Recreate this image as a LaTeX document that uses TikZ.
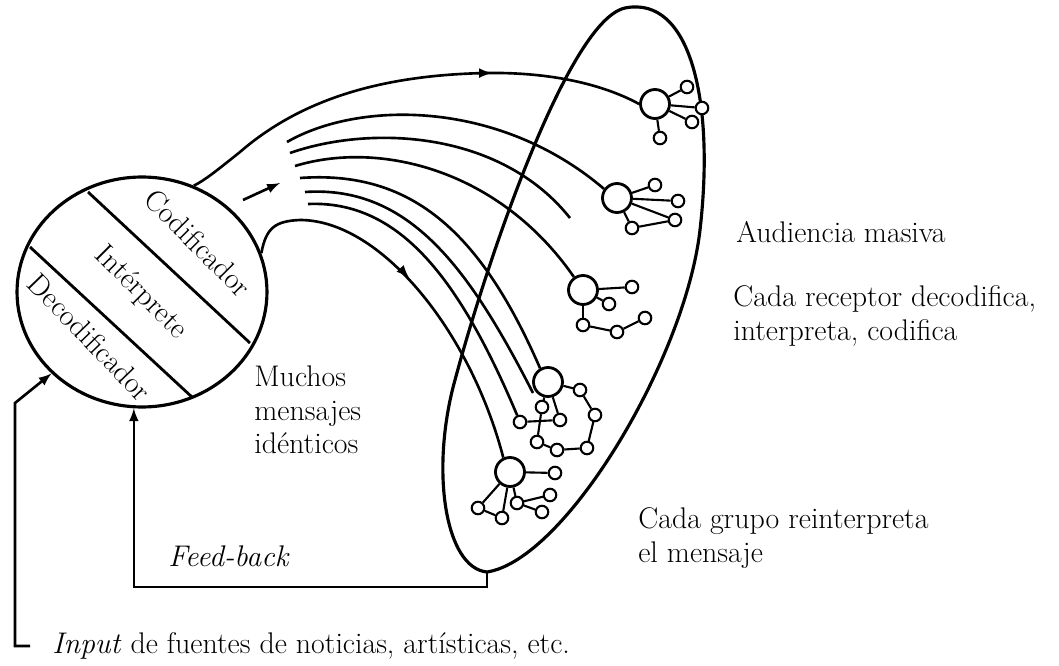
\documentclass[tikz,border=0pt]{standalone}
\usepackage{tikz}
\tikzset{>=latex}
\usetikzlibrary{calc}
\usetikzlibrary{shapes.geometric}
\tikzset{
  lbl/.style={inner sep=0pt, font=\fontsize{17}{19}\selectfont},
  flow/.style={line width=1.5pt},
  rcv/.style={circle, draw, line width=1.6pt, minimum size=0.58cm, inner sep=0pt},
  sat/.style={circle, draw, line width=1.2pt, fill=white, minimum size=0.25cm, inner sep=0pt},
  net/.style={line width=1.2pt}
}

\begin{document}
\begin{tikzpicture}[x=0.02cm, y=-0.02cm]
        \useasboundingbox (0,0) rectangle (1059,666);
        % fuente
        \node[draw, ellipse, line width=1.8pt, minimum width=5cm, minimum height=4.6cm] (src) at (142,292) {};
        \draw[line width=1.6pt] (88,192) -- (250,343);
        \draw[line width=1.6pt] (30,247) -- (193,398);
        \node[lbl, rotate=-45] (codif) at (198,243) {Codificador};
        \node[lbl, rotate=-45] (interp) at (141,293) {Intérprete};
        \node[lbl, rotate=-46] (decodif) at (90,337) {Decodificador};
        % audiencia
        \coordinate (audb) at (487,572);
        \draw[line width=1.8pt] (audb) .. controls (445,568) and (430,470) .. (455,380)
            .. controls (490,250) and (570,20) .. (625,8)
            .. controls (690,-5) and (715,100) .. (700,230)
            .. controls (685,360) and (565,560) .. (audb);
        % receptores
        \node[rcv] (r1) at (655,104) {};
        \node[rcv] (r2) at (617,198) {};
        \node[rcv] (r3) at (583,290) {};
        \node[rcv] (r4) at (548,382) {};
        \node[rcv] (r5) at (510,472) {};
        \foreach \n/\x/\y in {r1a/687/87, r1b/702/108, r1c/692/122, r1d/660/138,
                r2a/655/185, r2b/678/201, r2c/675/220, r2d/632/228,
                r3a/632/287, r3b/609/304, r3c/583/325, r3d/617/332, r3e/645/318,
                r4a/580/390, r4b/595/415, r4c/587/448, r4d/557/450, r4e/537/442, r4f/542/407, r4g/560/420, r4h/520/422,
                r5a/555/473, r5b/550/495, r5c/542/512, r5d/517/503, r5e/502/518, r5f/478/508} {
            \node[sat] (\n) at (\x,\y) {};
        }
        \foreach \a/\b in {r1/r1a, r1/r1b, r1/r1c, r1/r1d,
                r2/r2a, r2/r2b, r2/r2c, r2/r2d, r2d/r2c,
                r3/r3a, r3/r3b, r3/r3c, r3c/r3d, r3d/r3e,
                r4/r4a, r4a/r4b, r4b/r4c, r4c/r4d, r4d/r4e, r4e/r4f, r4/r4f, r4/r4g, r4h/r4g,
                r5/r5a, r5/r5d, r5d/r5b, r5d/r5c, r5/r5f, r5f/r5e, r5/r5e} {
            \draw[net] (\a) -- (\b);
        }
        % mensajes
        \draw[flow] (src.64) .. controls (205,180) and (215,172) .. (240,152)
            .. controls (300,100) and (380,75) .. (487,73)
            .. controls (560,72) and (610,88) .. (r1.west);
        \draw[flow] (287,142) .. controls (360,100) and (500,100) .. (r2.145);
        \draw[flow] (290,153) .. controls (370,125) and (500,130) .. (570,218);
        \draw[flow] (295,166) .. controls (380,140) and (500,170) .. (r3.125);
        \draw[flow] (300,178) .. controls (410,170) and (480,230) .. (r4.120);
        \draw[flow] (305,192) .. controls (410,185) and (470,270) .. (533,393);
        \draw[flow] (308,204) .. controls (400,200) and (460,280) .. (r4h);
        \draw[flow] (src.18) .. controls (266,228) and (275,221) .. (300,220)
            .. controls (380,220) and (470,330) .. (r5.115);
        % flechas
        \draw[flow, ->] (480,73.1) -- (492,73.1);
        \draw[flow, ->] (404,272.5) -- (409,277.8);
        \draw[flow, ->] (243,200) -- (280,183);
        % retroalimentacion
        \draw[flow, ->] (audb) -- ++(0,15) -| (src.266);
        \node[lbl, anchor=west] (fbk) at (168,556) {\itshape Feed-back};
        % entrada
        \node[lbl, anchor=west] (inp) at (52,646) {\emph{Input} de fuentes de noticias, artísticas, etc.};
        \draw[flow, ->] ([xshift=-0.44cm]inp.west) -- (15,646) -- (15,403) -- (src.222);
        % textos
        \node[lbl, anchor=west, align=left] (msg) at (254,410) {Muchos\\mensajes\\idénticos};
        \node[lbl, anchor=west] (mas) at (736,232) {Audiencia masiva};
        \node[lbl, anchor=west, align=left] (rec) at (733,316) {Cada receptor decodifica,\\interpreta, codifica};
        \node[lbl, anchor=west, align=left] (grp) at (638,538) {Cada grupo reinterpreta\\el mensaje};
\end{tikzpicture}
\end{document}
